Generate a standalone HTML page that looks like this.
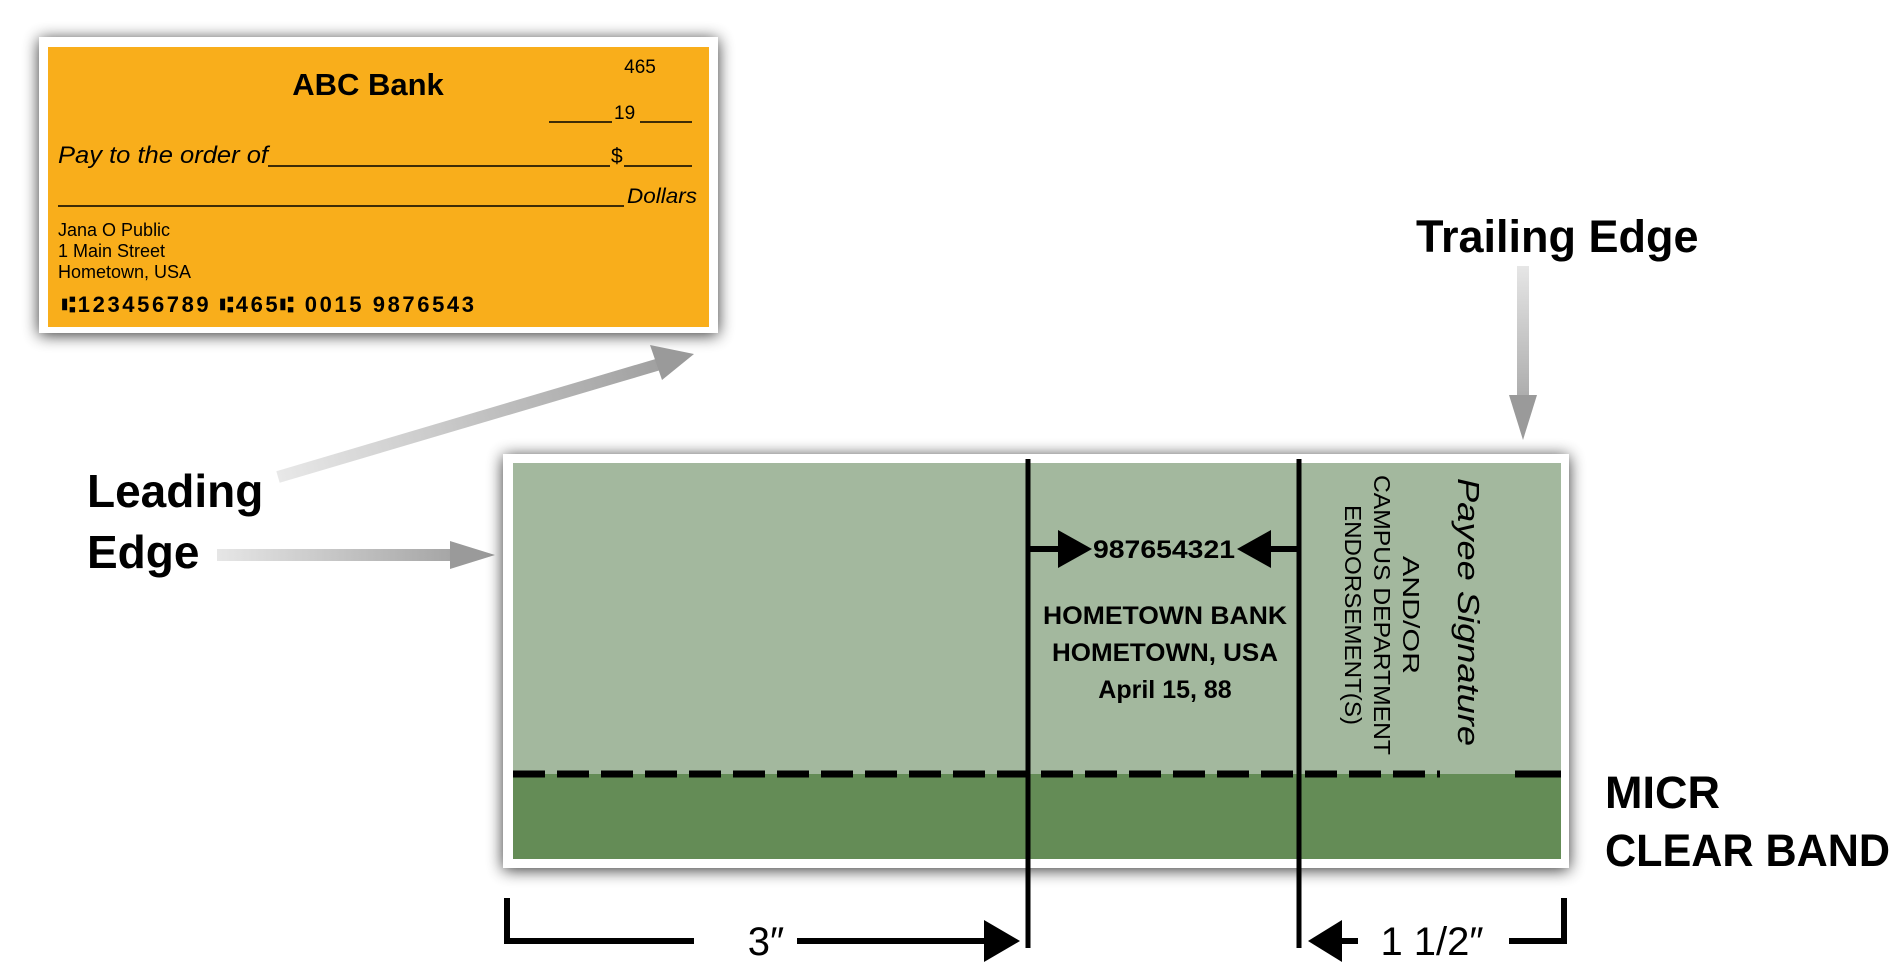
<!DOCTYPE html>
<html><head><meta charset="utf-8"><style>
html,body{margin:0;padding:0;background:#fff;}
svg{display:block;font-family:"Liberation Sans",sans-serif;}
</style></head><body>
<svg width="1893" height="972" viewBox="0 0 1893 972" xmlns="http://www.w3.org/2000/svg">
<defs>
<filter id="sh" x="-10%" y="-20%" width="120%" height="140%">
<feGaussianBlur in="SourceAlpha" stdDeviation="8"/><feOffset dx="0" dy="2"/>
<feComponentTransfer><feFuncA type="linear" slope="0.8"/></feComponentTransfer>
<feMerge><feMergeNode/><feMergeNode in="SourceGraphic"/></feMerge></filter>
<linearGradient id="g1" gradientUnits="userSpaceOnUse" x1="217" y1="0" x2="495" y2="0"><stop offset="0" stop-color="#e6e6e6"/><stop offset="1" stop-color="#9a9a9a"/></linearGradient>
<linearGradient id="g2" gradientUnits="userSpaceOnUse" x1="0" y1="266" x2="0" y2="440"><stop offset="0" stop-color="#e6e6e6"/><stop offset="1" stop-color="#9a9a9a"/></linearGradient>
<linearGradient id="g3" gradientUnits="userSpaceOnUse" x1="278" y1="477" x2="694" y2="354"><stop offset="0" stop-color="#e8e8e8"/><stop offset="1" stop-color="#9a9a9a"/></linearGradient>
</defs>

<!-- Orange check -->
<rect x="39" y="37" width="679" height="296" fill="#fff" filter="url(#sh)"/>
<rect x="48" y="47" width="661" height="280" fill="#f9ae1b"/>
<text x="368" y="95" font-size="31" font-weight="bold" text-anchor="middle">ABC Bank</text>
<text x="640" y="73" font-size="19" text-anchor="middle">465</text>
<line x1="549" y1="122" x2="612" y2="122" stroke="#000" stroke-width="1.5"/>
<text x="614" y="119" font-size="19">19</text>
<line x1="640" y1="122" x2="692" y2="122" stroke="#000" stroke-width="1.5"/>
<text x="58" y="163" font-size="24" font-style="italic" textLength="210" lengthAdjust="spacingAndGlyphs">Pay to the order of</text>
<line x1="268" y1="166" x2="610" y2="166" stroke="#000" stroke-width="1.5"/>
<text x="611" y="163" font-size="21">$</text>
<line x1="624" y1="166" x2="692" y2="166" stroke="#000" stroke-width="1.5"/>
<line x1="58" y1="206" x2="624" y2="206" stroke="#000" stroke-width="1.5"/>
<text x="627" y="203" font-size="21" font-style="italic" textLength="70" lengthAdjust="spacingAndGlyphs">Dollars</text>
<text x="58" y="236" font-size="18">Jana O Public</text>
<text x="58" y="257" font-size="18">1 Main Street</text>
<text x="58" y="278" font-size="18">Hometown, USA</text>
<text x="62" y="312" font-size="22" font-weight="bold" textLength="412" lengthAdjust="spacing">⑆123456789  ⑆465⑆  0015  9876543</text>

<!-- Leading arrow to check -->
<line x1="278" y1="477" x2="670" y2="361" stroke="url(#g3)" stroke-width="12"/>
<polygon points="694,354 650,345 662,380" fill="#9a9a9a"/>

<text x="87" y="507" font-size="46" font-weight="bold">Leading</text>
<text x="87" y="568" font-size="46" font-weight="bold">Edge</text>
<line x1="217" y1="555" x2="460" y2="555" stroke="url(#g1)" stroke-width="12"/>
<polygon points="495,555 450,541 450,569" fill="#9a9a9a"/>

<text x="1416" y="252" font-size="45" font-weight="bold">Trailing Edge</text>
<line x1="1523" y1="266" x2="1523" y2="405" stroke="url(#g2)" stroke-width="12"/>
<polygon points="1523,440 1509,395 1537,395" fill="#9a9a9a"/>

<!-- Green check -->
<rect x="503" y="454" width="1066" height="414" fill="#fff" filter="url(#sh)"/>
<rect x="513" y="463" width="1048" height="311" fill="#a3b89e"/>
<rect x="513" y="774" width="1048" height="85" fill="#648c56"/>
<line x1="513" y1="774" x2="1440" y2="774" stroke="#000" stroke-width="7" stroke-dasharray="32 12"/>
<line x1="1515" y1="774" x2="1561" y2="774" stroke="#000" stroke-width="7"/>

<line x1="1028" y1="459" x2="1028" y2="948" stroke="#000" stroke-width="5"/>
<line x1="1299" y1="459" x2="1299" y2="948" stroke="#000" stroke-width="5"/>

<line x1="1028" y1="549" x2="1065" y2="549" stroke="#000" stroke-width="6"/>
<polygon points="1092,549 1058,530 1058,568" fill="#000"/>
<line x1="1299" y1="549" x2="1264" y2="549" stroke="#000" stroke-width="6"/>
<polygon points="1237,549 1271,530 1271,568" fill="#000"/>
<text x="1164" y="558" font-size="25" font-weight="bold" text-anchor="middle" textLength="142" lengthAdjust="spacingAndGlyphs">987654321</text>
<text x="1165" y="624" font-size="25" font-weight="bold" text-anchor="middle" textLength="244" lengthAdjust="spacingAndGlyphs">HOMETOWN BANK</text>
<text x="1165" y="661" font-size="25" font-weight="bold" text-anchor="middle" textLength="226" lengthAdjust="spacingAndGlyphs">HOMETOWN, USA</text>
<text x="1165" y="698" font-size="25" font-weight="bold" text-anchor="middle">April 15, 88</text>

<g transform="translate(1458,612) rotate(90)">
<text x="0" y="0" font-size="31" font-style="italic" text-anchor="middle" textLength="268" lengthAdjust="spacingAndGlyphs">Payee Signature</text>
</g>
<g transform="translate(1403,615) rotate(90)">
<text x="0" y="0" font-size="23" text-anchor="middle" textLength="118" lengthAdjust="spacingAndGlyphs">AND/OR</text>
<text x="0" y="29" font-size="23" text-anchor="middle" textLength="280" lengthAdjust="spacingAndGlyphs">CAMPUS DEPARTMENT</text>
<text x="0" y="58" font-size="23" text-anchor="middle" textLength="220" lengthAdjust="spacingAndGlyphs">ENDORSEMENT(S)</text>
</g>

<text x="1605" y="808" font-size="45" font-weight="bold">MICR</text>
<text x="1605" y="866" font-size="45" font-weight="bold" textLength="285" lengthAdjust="spacingAndGlyphs">CLEAR BAND</text>

<!-- Dimensions -->
<polyline points="507,898 507,941 694,941" fill="none" stroke="#000" stroke-width="6"/>
<text x="766" y="955" font-size="40" text-anchor="middle">3″</text>
<line x1="797" y1="941" x2="990" y2="941" stroke="#000" stroke-width="6"/>
<polygon points="1020,941 984,920 984,962" fill="#000"/>

<polyline points="1564,898 1564,941 1509,941" fill="none" stroke="#000" stroke-width="6"/>
<text x="1432" y="955" font-size="40" text-anchor="middle">1 1/2″</text>
<line x1="1358" y1="941" x2="1335" y2="941" stroke="#000" stroke-width="6"/>
<polygon points="1308,941 1342,920 1342,962" fill="#000"/>
</svg>
</body></html>
